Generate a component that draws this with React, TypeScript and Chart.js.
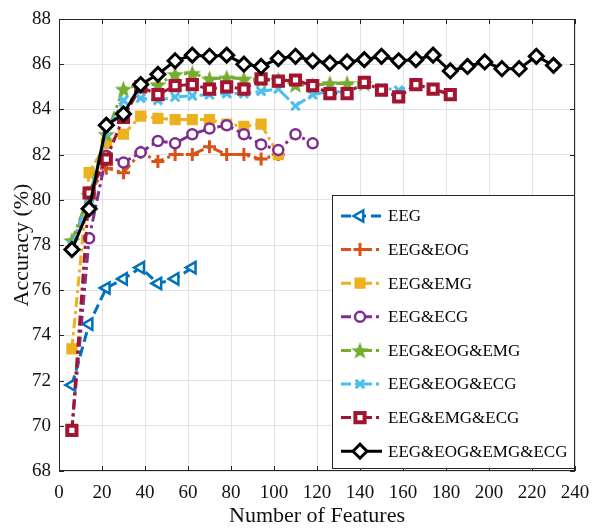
import React, { useEffect, useRef } from 'react';
import { Chart, registerables } from 'chart.js';
import { drawPoint } from 'chart.js/helpers';

Chart.register(...registerables);

// Number of features (x positions shared by every series)
const FEATURES = [6, 14, 22, 30, 38, 46, 54, 62, 70, 78, 86, 94, 102, 110, 118, 126, 134, 142, 150, 158, 166, 174, 182, 190, 198, 206, 214, 222, 230];

const SERIES_NAMES = ['EEG', 'EEG&EOG', 'EEG&EMG', 'EEG&ECG', 'EEG&EOG&EMG', 'EEG&EOG&ECG', 'EEG&EMG&ECG', 'EEG&EOG&EMG&ECG'];

const EEG = [71.8, 74.5, 76.1, 76.5, 77.0, 76.3, 76.5, 77.0];
const EEG_EOG = [77.9, 80.3, 81.4, 81.2, 82.1, 81.7, 82.0, 82.0, 82.35, 82.0, 82.0, 81.8, 82.0];
const EEG_EMG = [73.4, 81.2, 82.5, 82.9, 83.7, 83.6, 83.55, 83.55, 83.55, 83.35, 83.25, 83.35, 82.0];
const EEG_ECG = [69.8, 78.3, 81.95, 81.65, 82.1, 82.6, 82.5, 82.9, 83.15, 83.3, 82.9, 82.45, 82.2, 82.9, 82.5];
const EEG_EOG_EMG = [78.2, 80.2, 82.9, 84.9, 85.1, 85.1, 85.55, 85.6, 85.35, 85.4, 85.35, 85.3, 85.3, 85.1, 85.05, 85.15, 85.15, 85.15];
const EEG_EOG_ECG = [78.0, 80.1, 83.0, 84.4, 84.5, 84.4, 84.55, 84.6, 84.65, 84.7, 84.7, 84.8, 84.9, 84.15, 84.65, 84.8, 84.75, 85.15, 84.95, 84.85, 85.1, 84.9, 84.7];
const EEG_EMG_ECG = [69.8, 80.3, 81.8, 83.65, 85.0, 84.65, 85.05, 85.1, 84.9, 85.0, 84.9, 85.35, 85.25, 85.3, 85.05, 84.7, 84.7, 85.2, 84.85, 84.55, 85.1, 84.9, 84.65];
const EEG_EOG_EMG_ECG = [77.8, 79.6, 83.3, 83.8, 85.1, 85.55, 86.15, 86.4, 86.35, 86.4, 86.0, 85.9, 86.25, 86.35, 86.15, 86.05, 86.1, 86.2, 86.35, 86.15, 86.2, 86.4, 85.7, 85.9, 86.1, 85.8, 85.8, 86.35, 85.95];

const SERIES_VALUES = [EEG, EEG_EOG, EEG_EMG, EEG_ECG, EEG_EOG_EMG, EEG_EOG_ECG, EEG_EMG_ECG, EEG_EOG_EMG_ECG];

const X_MIN = 0, X_MAX = 240, X_STEP = 20;
const Y_MIN = 68, Y_MAX = 88, Y_STEP = 2;

const FONT = "'Liberation Serif', 'Times New Roman', serif";

function makeStar(color: string, size: number) {
  const c = document.createElement('canvas');
  c.width = size; c.height = size;
  const g = c.getContext('2d')!;
  const cx = size / 2, cy = size / 2 + 0.8;
  const ro = size / 2 - 0.3, ri = ro * 0.42;
  g.beginPath();
  for (let i = 0; i < 10; i++) {
    const r = i % 2 === 0 ? ro : ri;
    const a = -Math.PI / 2 + (i * Math.PI) / 5;
    const px = cx + r * Math.cos(a), py = cy + r * Math.sin(a);
    if (i === 0) g.moveTo(px, py); else g.lineTo(px, py);
  }
  g.closePath();
  g.fillStyle = color;
  g.fill();
  return c;
}

const DASH = [10, 5];
const DASHDOT = [10, 4, 3, 4];

export default function App() {
  const ref = useRef<HTMLCanvasElement>(null);
  useEffect(() => {
    const star = makeStar('#77AC30', 19);
    const styles: any[] = [
      { color: '#0072BD', dash: DASH, pointStyle: 'triangle', rotation: -90, radius: 6.5, pbw: 2.5, bg: '#ffffff', lw: 3 },
      { color: '#D95319', dash: DASHDOT, pointStyle: 'cross', rotation: 0, radius: 6.5, pbw: 3, bg: '#D95319', lw: 3 },
      { color: '#EDB120', dash: DASHDOT, pointStyle: 'rect', rotation: 0, radius: 6.5, pbw: 2, bg: '#EDB120', lw: 3 },
      { color: '#7E2F8E', dash: DASHDOT, pointStyle: 'circle', rotation: 0, radius: 5, pbw: 2.5, bg: '#ffffff', lw: 3 },
      { color: '#77AC30', dash: DASHDOT, pointStyle: star, rotation: 0, radius: 9, pbw: 0, bg: '#77AC30', lw: 3 },
      { color: '#4DBEEE', dash: DASHDOT, pointStyle: 'crossRot', rotation: 0, radius: 6, pbw: 3, bg: '#4DBEEE', lw: 3 },
      { color: '#A2142F', dash: DASHDOT, pointStyle: 'rect', rotation: 0, radius: 6.5, pbw: 4, bg: '#ffffff', lw: 3 },
      { color: '#000000', dash: [], pointStyle: 'rectRot', rotation: 0, radius: 7, pbw: 3, bg: '#ffffff', lw: 3 },
    ];

    const datasets = SERIES_NAMES.map((name, i) => {
      const s = styles[i];
      return {
        label: name,
        data: SERIES_VALUES[i].map((v, k) => ({ x: FEATURES[k], y: v })),
        borderColor: s.color,
        backgroundColor: s.bg,
        borderWidth: s.lw,
        borderDash: s.dash,
        pointStyle: s.pointStyle,
        rotation: s.rotation,
        pointRadius: s.radius,
        pointBorderWidth: s.pbw,
        pointBorderColor: s.color,
        pointBackgroundColor: s.bg,
        tension: 0,
        fill: false,
        order: SERIES_NAMES.length - 1 - i,
      };
    });

    const framePlugin = {
      id: 'frame',
      afterDatasetsDraw(chart: any) {
        const { ctx, chartArea: a, scales } = chart;
        const xs = scales.x, ys = scales.y;
        ctx.save();
        ctx.strokeStyle = '#262626';
        ctx.lineWidth = 1;
        ctx.strokeRect(Math.round(a.left) + 0.5, Math.round(a.top) + 0.5, Math.round(a.right - a.left) - 1, Math.round(a.bottom - a.top) - 1);
        ctx.beginPath();
        const tl = 5;
        for (let v = X_MIN; v <= X_MAX; v += X_STEP) {
          const px = Math.round(xs.getPixelForValue(v)) + 0.5;
          ctx.moveTo(px, a.bottom); ctx.lineTo(px, a.bottom - tl);
          ctx.moveTo(px, a.top); ctx.lineTo(px, a.top + tl);
        }
        for (let v = Y_MIN; v <= Y_MAX; v += Y_STEP) {
          const py = Math.round(ys.getPixelForValue(v)) + 0.5;
          ctx.moveTo(a.left, py); ctx.lineTo(a.left + tl, py);
          ctx.moveTo(a.right, py); ctx.lineTo(a.right - tl, py);
        }
        ctx.stroke();
        ctx.restore();
      },
      afterDraw(chart: any) {
        const { ctx, chartArea: a } = chart;
        const w = 242, h = 273;
        const right = a.right - 1, bottom = a.bottom - 3;
        const left = right - w, top = bottom - h;
        ctx.save();
        ctx.fillStyle = '#ffffff';
        ctx.fillRect(left, top, w, h);
        ctx.strokeStyle = '#262626';
        ctx.lineWidth = 1;
        ctx.strokeRect(Math.round(left) + 0.5, Math.round(top) + 0.5, w, h);
        ctx.font = `17px ${FONT}`;
        ctx.textBaseline = 'middle';
        SERIES_NAMES.forEach((name, i) => {
          const s = styles[i];
          const cy = top + 21 + i * 33.6;
          ctx.save();
          ctx.strokeStyle = s.color;
          ctx.lineWidth = s.lw;
          ctx.setLineDash(s.dash);
          ctx.beginPath();
          ctx.moveTo(left + 9, cy); ctx.lineTo(left + 50, cy);
          ctx.stroke();
          ctx.setLineDash([]);
          ctx.strokeStyle = s.color;
          ctx.fillStyle = s.bg;
          ctx.lineWidth = s.pbw;
          drawPoint(ctx, { pointStyle: s.pointStyle, rotation: s.rotation, radius: s.radius, borderWidth: s.pbw } as any, left + 28, cy);
          ctx.restore();
          ctx.fillStyle = '#000000';
          ctx.fillText(name, left + 56, cy + 1);
        });
        ctx.restore();
      },
    };

    const chart = new Chart(ref.current!, {
      type: 'line',
      data: { datasets: datasets as any },
      options: {
        animation: false,
        responsive: false,
        devicePixelRatio: 1,
        layout: { padding: { top: 19, right: 17, left: 0, bottom: 0 } },
        plugins: { legend: { display: false }, tooltip: { enabled: false } },
        scales: {
          x: {
            type: 'linear',
            min: X_MIN, max: X_MAX,
            afterFit: (s: any) => { s.height = 57; s.paddingLeft = 0; s.paddingRight = 0; },
            grid: { color: '#e3e3e3', lineWidth: 1, drawTicks: false },
            border: { display: false },
            ticks: { stepSize: X_STEP, color: '#111', padding: 11, font: { family: FONT, size: 19 }, maxRotation: 0 },
            title: { display: true, text: 'Number of Features', color: '#111', font: { family: FONT, size: 22, lineHeight: 1 }, padding: { top: 0, bottom: 1 } },
          },
          y: {
            type: 'linear',
            min: Y_MIN, max: Y_MAX,
            afterFit: (s: any) => { s.width = 59; s.paddingTop = 0; s.paddingBottom = 0; },
            grid: { color: '#e3e3e3', lineWidth: 1, drawTicks: false },
            border: { display: false },
            ticks: { stepSize: Y_STEP, color: '#111', padding: 8, font: { family: FONT, size: 19 } },
            title: { display: true, text: 'Accuracy (%)', color: '#111', font: { family: FONT, size: 22, lineHeight: 1 }, padding: { top: 11, bottom: 0 } },
          },
        },
      },
      plugins: [framePlugin],
    });
    return () => chart.destroy();
  }, []);

  return (
    <div style={{ position: 'absolute', left: 0, top: 0, width: 592, height: 528, background: '#fff' }}>
      <canvas ref={ref} width={592} height={528} style={{ width: 592, height: 528, display: 'block' }} />
    </div>
  );
}
